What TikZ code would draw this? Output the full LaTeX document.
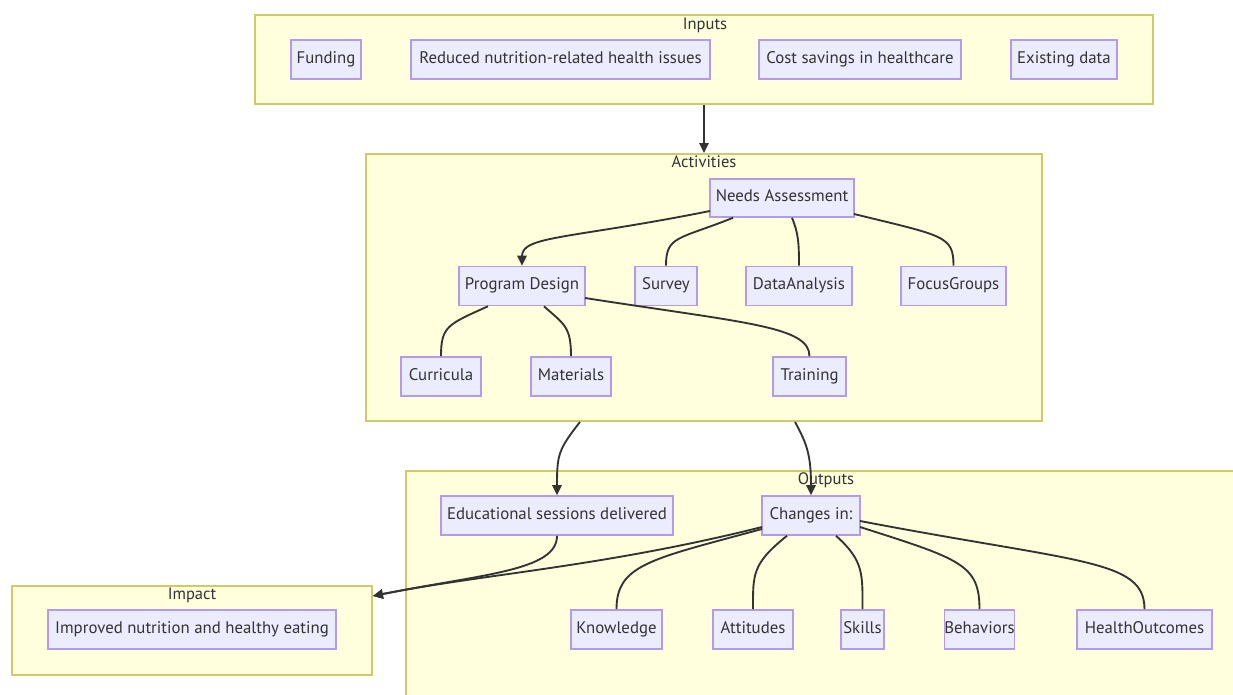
\documentclass[tikz,border=0pt]{standalone}
\usepackage{fontspec}
\setmainfont{PT Sans}
\usetikzlibrary{arrows.meta,calc}
\definecolor{clfill}{HTML}{FFFFDE}
\definecolor{cldraw}{HTML}{CCCC66}
\definecolor{ndfill}{HTML}{ECECFF}
\definecolor{nddraw}{HTML}{B49BEA}
\definecolor{ink}{HTML}{333333}
\tikzset{
  cluster/.style={draw=cldraw,fill=clfill,line width=1.4pt,inner sep=0pt},
  box/.style={draw=nddraw,fill=ndfill,line width=1.2pt,minimum height=39*0.75pt,inner sep=0pt,text=ink,font=\fontsize{12.6}{14}\selectfont,text height=1.55ex,text depth=0.45ex},
  ctitle/.style={text=ink,font=\fontsize{12.4}{14}\selectfont,inner sep=0pt,text height=1.55ex,text depth=0.45ex},
  link/.style={draw=ink,line width=1.4pt},
  arr/.style={link,-{Triangle[length=7.5pt,width=7pt]}}
}
\begin{document}
\begin{tikzpicture}[x=0.75pt,y=-0.75pt]
\clip (0,0) rectangle (1233,695);
\fill[white] (0,0) rectangle (1233,695);
% clusters
\node[cluster,minimum width=898*0.75pt,minimum height=89*0.75pt] (inputs) at (704,59.5) {};
\node[cluster,minimum width=676*0.75pt,minimum height=267*0.75pt] (activities) at (704,287.5) {};
\node[cluster,minimum width=834*0.75pt,minimum height=229*0.75pt] (outputs) at (823,585.5) {};
\node[cluster,minimum width=360*0.75pt,minimum height=89*0.75pt] (impact) at (192,630.5) {};
\node[ctitle] (tin) at (705,26) {Inputs};
\node[ctitle] (tact) at (704,164) {Activities};
\node[ctitle] (timp) at (192,596) {Impact};
% inputs
\node[box,minimum width=70*0.75pt] (funding) at (326,59.5) {Funding};
\node[box,minimum width=299*0.75pt] (reduced) at (560.5,59.5) {Reduced nutrition-related health issues};
\node[box,minimum width=202*0.75pt] (cost) at (860,59.5) {Cost savings in healthcare};
\node[box,minimum width=106*0.75pt] (existing) at (1064,59.5) {Existing data};
% activities
\node[box,minimum width=144*0.75pt,minimum height=38*0.75pt] (needs) at (782,198) {Needs Assessment};
\node[box,minimum width=126*0.75pt] (pd) at (522,286) {Program Design};
\node[box,minimum width=62*0.75pt] (survey) at (666,286) {Survey};
\node[box,minimum width=106*0.75pt] (da) at (799,286) {DataAnalysis};
\node[box,minimum width=105*0.75pt] (fg) at (953.5,286) {FocusGroups};
\node[box,minimum width=80*0.75pt] (curr) at (441,376.5) {Curricula};
\node[box,minimum width=80*0.75pt] (mat) at (571,376.5) {Materials};
\node[box,minimum width=73*0.75pt] (train) at (809.5,376.5) {Training};
% outputs
\node[box,minimum width=232*0.75pt] (edu) at (557,515.5) {Educational sessions delivered};
\node[box,minimum width=98*0.75pt] (changes) at (811,515.5) {Changes in:};
\node[box,minimum width=91*0.75pt] (know) at (616.5,629.5) {Knowledge};
\node[box,minimum width=80*0.75pt] (att) at (753,629.5) {Attitudes};
\node[box,minimum width=43*0.75pt] (skills) at (862.5,629.5) {Skills};
\node[box,minimum width=69*0.75pt] (beh) at (979.5,629.5) {Behaviors};
\node[box,minimum width=135*0.75pt] (health) at (1144.5,629.5) {HealthOutcomes};
% impact
\node[box,minimum width=288*0.75pt] (improved) at (192,629.5) {Improved nutrition and healthy eating};
% edges
\draw[arr] (inputs.south) -- (activities.north);
\draw[arr] ([shift={(-72,13)}]needs.center) .. controls +(-140,28) and +(0,-30) .. (pd.north);
\draw[link] ([shift={(-49,0)}]needs.south) .. controls +(-55,22) and +(0,-30) .. (survey.north);
\draw[link] ([shift={(10,0)}]needs.south) .. controls +(6,15) and +(0,-25) .. (da.north);
\draw[link] ([shift={(72,16)}]needs.center) .. controls +(90,22) and +(0,-30) .. (fg.north);
\draw[link] ([shift={(-34,0)}]pd.south) .. controls +(-40,18) and +(0,-30) .. (curr.north);
\draw[link] ([shift={(22,0)}]pd.south) .. controls +(20,18) and +(0,-30) .. (mat.north);
\draw[link] ([shift={(63,12)}]pd.center) .. controls +(160,25) and +(0,-30) .. (train.north);
\draw[arr] ([shift={(-124,0)}]activities.south) .. controls +(-22,28) and +(0,-40) .. (edu.north);
\draw[arr] ([shift={(91,0)}]activities.south) .. controls +(12,22) and +(0,-40) .. (changes.north);
\node[ctitle] (tout) at (826,481) {Outputs};
\draw[arr] (edu.south) .. controls +(0,35) and +(110,-22) .. ([shift={(0,-34.5)}]impact.east);
\draw[arr] ([shift={(-49,11.5)}]changes.center) .. controls +(-160,40) and +(110,-22) .. ([shift={(0,-34.5)}]impact.east);
\draw[link] ([shift={(-49,13.5)}]changes.center) .. controls +(-110,30) and +(0,-45) .. (know.north);
\draw[link] ([shift={(-24,0)}]changes.south) .. controls +(-35,28) and +(0,-35) .. (att.north);
\draw[link] ([shift={(25,0)}]changes.south) .. controls +(28,25) and +(0,-35) .. (skills.north);
\draw[link] ([shift={(49,11.5)}]changes.center) .. controls +(100,32) and +(0,-45) .. (beh.north);
\draw[link] ([shift={(49,5.5)}]changes.center) .. controls +(220,42) and +(0,-50) .. (health.north);
\end{tikzpicture}
\end{document}
